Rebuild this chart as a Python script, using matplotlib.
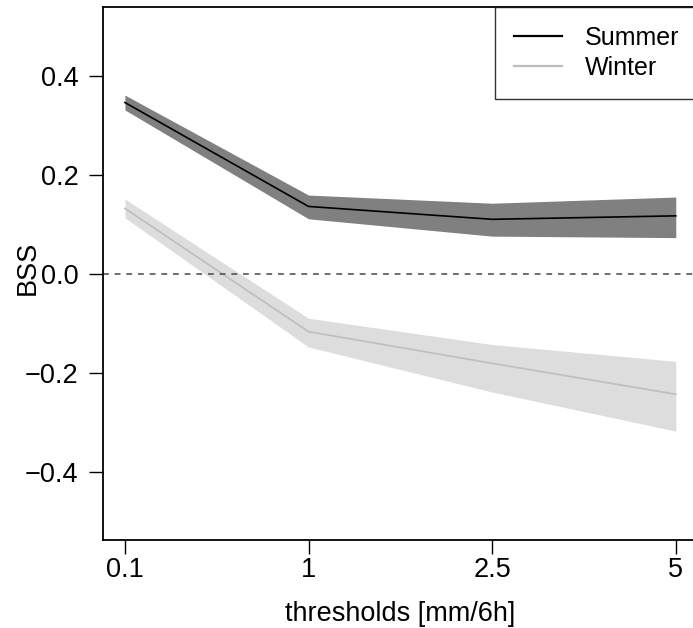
import numpy as np
import matplotlib
matplotlib.use('Agg')
import matplotlib.pyplot as plt

# thresholds on the x axis (plotted at equal spacing)
thresholds = ['0.1', '1', '2.5', '5']

summer_bss = [0.346, 0.136, 0.110, 0.117]
summer_lo = [0.331, 0.111, 0.076, 0.073]
summer_hi = [0.361, 0.159, 0.1425, 0.155]

winter_bss = [0.132, -0.117, -0.181, -0.2435]
winter_lo = [0.113, -0.148, -0.239, -0.318]
winter_hi = [0.151, -0.090, -0.143, -0.177]

plt.rcParams['font.family'] = ['Liberation Sans', 'DejaVu Sans']

W, H = 693, 628
fig = plt.figure(figsize=(W / 100, H / 100), dpi=100)
# plot region runs past the right edge of the picture, like the original
left, right, top, bottom = 102.7, 698.0, 7.0, 540.0
ax = fig.add_axes([left / W, 1 - bottom / H, (right - left) / W, (bottom - top) / H])

x = np.arange(1, len(thresholds) + 1)
ax.fill_between(x, summer_lo, summer_hi, color='#808080', lw=0)
ax.fill_between(x, winter_lo, winter_hi, color='#dddddd', lw=0)
ax.plot(x, summer_bss, color='black', lw=1.2, label='Summer')
ax.plot(x, winter_bss, color='#bebebe', lw=1.2, label='Winter')
ax.axhline(0, color='#555555', lw=1.2, ls=(0, (3.5, 3.5)))

ax.set_xlim(0.879, 4.121)
ax.set_ylim(-0.538, 0.539)
ax.set_xticks(x)
ax.set_xticklabels(thresholds)
ax.set_yticks([-0.4, -0.2, 0.0, 0.2, 0.4])
ax.set_yticklabels(['\u22120.4', '\u22120.2', '0.0', '0.2', '0.4'])
ax.tick_params(direction='out', length=10, width=1, labelsize=19.5)
ax.tick_params(axis='x', pad=2.5)
ax.tick_params(axis='y', pad=7.5)
for s in ['left', 'bottom', 'top']:
    ax.spines[s].set_linewidth(1.3)
ax.spines['right'].set_visible(False)

ax.set_xlabel('thresholds [mm/6h]', fontsize=19.5, va='baseline')
ax.xaxis.set_label_coords(0.5, -(621 - bottom) / (bottom - top))
ax.set_ylabel('BSS', fontsize=19.5, va='center')
ax.yaxis.set_label_coords((28 - left) / (right - left), 0.51)

leg = ax.legend(loc='upper right', bbox_to_anchor=(1.0, 1.0), borderaxespad=0,
                fontsize=18, frameon=True, fancybox=False, handlelength=1.95,
                handletextpad=0.9, borderpad=0.75, labelspacing=0.25)
leg.get_frame().set_edgecolor('black')
leg.get_frame().set_linewidth(1.0)
for line in leg.get_lines():
    line.set_linewidth(1.6)

fig.savefig('out.png', dpi=100)
